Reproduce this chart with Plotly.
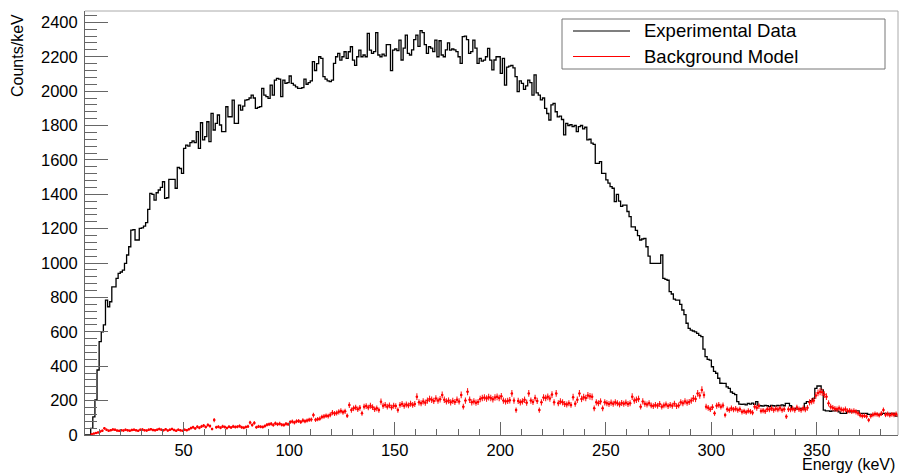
import math
import plotly.graph_objects as go

# ---------------- data ----------------
bin_start = 3          # first bin lower edge (keV), bin width 1 keV
black_counts = [
    0, 0, 0, 39, 105, 204, 378,
    543, 600, 640, 785, 746, 775, 862, 862, 911, 940,
    948, 959, 998, 1047, 1095, 1192, 1195, 1134, 1134, 1202,
    1205, 1215, 1235, 1312, 1405, 1400, 1366, 1409, 1425, 1440,
    1473, 1376, 1380, 1487, 1487, 1487, 1435, 1557, 1550, 1522,
    1667, 1686, 1680, 1700, 1710, 1700, 1764, 1667, 1816, 1716,
    1735, 1822, 1706, 1871, 1774, 1813, 1861, 1803, 1764, 1764,
    1909, 1851, 1851, 1948, 1813, 1813, 1919, 1890, 1913, 1948,
    1950, 1960, 1977, 1960, 1900, 1905, 1910, 2016, 1977, 1968,
    1958, 2035, 1977, 2064, 2074, 2070, 1968, 2064, 2045, 2050,
    2088, 2045, 2035, 2025, 2016, 2016, 2020, 2070, 2040, 2050,
    2060, 2171, 2120, 2160, 2200, 2190, 2084, 2070, 2060, 2055,
    2064, 2161, 2200, 2219, 2180, 2200, 2229, 2190, 2229, 2258,
    2180, 2150, 2200, 2239, 2200, 2210, 2200, 2336, 2239, 2219,
    2230, 2340, 2210, 2200, 2215, 2205, 2271, 2271, 2119, 2239,
    2245, 2235, 2297, 2181, 2250, 2326, 2219, 2210, 2240, 2300,
    2326, 2260, 2352, 2340, 2270, 2219, 2258, 2250, 2230, 2297,
    2200, 2293, 2210, 2200, 2240, 2281, 2239, 2245, 2240, 2230,
    2200, 2161, 2317, 2320, 2300, 2219, 2230, 2297, 2250, 2161,
    2190, 2175, 2180, 2200, 2249, 2180, 2123, 2181, 2200, 2200,
    2103, 2190, 2035, 2140, 2145, 2150, 2135, 2084, 1997, 2060,
    2045, 2010, 2030, 2064, 2050, 1977, 2094, 1990, 1977, 1949,
    1960, 1900, 1870, 1832, 1920, 1929, 1880, 1850, 1855, 1835,
    1745, 1813, 1800, 1805, 1794, 1800, 1764, 1794, 1800, 1780,
    1790, 1716, 1720, 1697, 1690, 1580, 1580, 1590, 1522, 1522,
    1484, 1465, 1445, 1435, 1357, 1400, 1360, 1330, 1337, 1337,
    1300, 1270, 1211, 1211, 1190, 1160, 1134, 1140, 1144, 1095,
    1040, 998, 998, 998, 998, 998, 1047, 911, 905, 900,
    834, 820, 790, 785, 785, 760, 727, 700, 650, 620,
    610, 605, 600, 591, 580, 572, 500, 456, 440, 436,
    397, 370, 359, 330, 301, 300, 300, 280, 271, 250,
    242, 235, 194, 180, 178, 180, 175, 184, 180, 185,
    178, 194, 172, 170, 168, 172, 170, 165, 172, 170,
    168, 172, 170, 175, 170, 184, 184, 170, 152, 155,
    150, 152, 155, 150, 184, 194, 194, 200, 213, 271,
    285, 285, 262, 145, 140, 140, 138, 140, 140, 145,
    135, 126, 126, 126, 135, 136, 135, 135, 140, 140,
    126, 126, 126, 126, 120, 120, 118, 120, 120, 120,
    120, 126, 126, 126, 126, 126, 126, 110, 110,
]

red_start = 6          # first background bin lower edge (keV)
red_counts = [
    5, 8, 12, 15,
    20, 25, 39, 30, 25, 28, 32, 30, 26, 24,
    28, 26, 30, 27, 25, 29, 31, 27, 24, 30,
    32, 28, 26, 30, 33, 29, 27, 31, 35, 30,
    28, 33, 26, 30, 35, 29, 25, 31, 27, 24,
    30, 28, 33, 40, 45, 38, 48, 42, 50, 55,
    46, 58, 52, 35, 87, 45, 48, 42, 50, 46,
    40, 48, 44, 50, 46, 48, 52, 45, 42, 47,
    50, 72, 58, 70, 45, 50, 48, 46, 52, 60,
    62, 65, 58, 68, 62, 66, 60, 58, 65, 62,
    75, 78, 72, 80, 82, 76, 85, 80, 84, 88,
    90, 116, 88, 92, 95, 105, 108, 112, 110, 118,
    130, 125, 128, 135, 140, 132, 138, 112, 174, 145,
    155, 160, 150, 158, 126, 165, 168, 160, 170, 162,
    150, 155, 145, 194, 170, 175, 165, 172, 160, 170,
    168, 145, 175, 180, 170, 178, 172, 182, 175, 180,
    223, 190, 185, 195, 188, 200, 210, 205, 198, 212,
    200, 208, 233, 205, 195, 200, 190, 198, 192, 205,
    195, 233, 165, 200, 252, 205, 190, 195, 188, 192,
    210, 215, 218, 212, 220, 215, 208, 218, 222, 215,
    225, 200, 195, 198, 202, 242, 200, 145, 198, 190,
    195, 205, 188, 242, 200, 192, 215, 198, 145, 190,
    218, 215, 222, 212, 235, 190, 242, 185, 195, 190,
    180, 178, 185, 175, 220, 182, 205, 242, 210, 220,
    215, 230, 225, 222, 155, 190, 185, 195, 155, 190,
    185, 180, 188, 182, 190, 185, 178, 186, 182, 188,
    180, 185, 223, 200, 205, 210, 165, 195, 182, 178,
    185, 172, 168, 175, 170, 180, 165, 172, 178, 168,
    175, 170, 182, 168, 172, 190, 185, 195, 188, 192,
    200, 213, 210, 242, 230, 262, 233, 165, 158, 150,
    162, 126, 170, 175, 165, 172, 116, 150, 145, 155,
    148, 152, 145, 150, 135, 138, 132, 140, 136, 130,
    165, 158, 168, 140, 142, 138, 150, 148, 155, 145,
    152, 148, 155, 145, 150, 107, 150, 148, 152, 145,
    160, 150, 145, 155, 148, 158, 190, 195, 200, 230,
    245, 252, 248, 235, 223, 184, 165, 158, 152, 150,
    155, 148, 145, 150, 140, 142, 138, 140, 135, 126,
    115, 110, 112, 108, 87, 110, 118, 122, 120, 115,
    125, 145, 118, 122, 115, 120, 118, 122, 115,
]

legend_labels = ["Experimental Data", "Background Model"]
x_title = "Energy (keV)"
y_title = "Counts/keV"

# ---------------- derived drawing arrays ----------------
x_edges = [bin_start + i for i in range(len(black_counts) + 1)]
y_step = black_counts + [black_counts[-1]]
red_x = [red_start + i + 0.5 for i in range(len(red_counts))]
red_err = [1.3 * math.sqrt(v) for v in red_counts]

FONT = "Liberation Sans, Arial, Helvetica, sans-serif"
AX = "#666666"

fig = go.Figure()
fig.add_trace(go.Scatter(
    x=x_edges, y=y_step, mode="lines", line=dict(color="black", width=1.3, shape="hv"),
    name=legend_labels[0], showlegend=False, hoverinfo="skip"))
fig.add_trace(go.Scatter(
    x=red_x, y=red_counts, mode="markers",
    marker=dict(color="#ff0000", size=2.5),
    error_y=dict(type="data", array=red_err, color="#ff2020", thickness=1.1, width=0),
    error_x=dict(type="constant", value=0.5, color="#ff2020", thickness=1.1, width=0),
    name=legend_labels[1], showlegend=False, hoverinfo="skip"))

W, H = 899, 473
L, R, T, B = 85, 1, 11, 38
pw, ph = W - L - R, H - T - B

def px(x):
    return (x - L) / pw

def py(y):
    return (H - B - y) / ph

shapes = [
    dict(type="line", xref="paper", yref="paper", x0=0, x1=1, y0=1, y1=1,
         line=dict(color="#aaaaaa", width=1)),
    dict(type="line", xref="paper", yref="paper", x0=1, x1=1, y0=0, y1=1,
         line=dict(color="#aaaaaa", width=1)),
    dict(type="rect", xref="paper", yref="paper", x0=px(562), x1=px(885),
         y0=py(69), y1=py(19), line=dict(color="#777777", width=1), fillcolor="white"),
    dict(type="line", xref="paper", yref="paper", x0=px(573), x1=px(630),
         y0=py(31), y1=py(31), line=dict(color="black", width=1.2)),
    dict(type="line", xref="paper", yref="paper", x0=px(573), x1=px(630),
         y0=py(56.5), y1=py(56.5), line=dict(color="#ff0000", width=1.2)),
]

annotations = [
    dict(text=legend_labels[0], xref="paper", yref="paper", x=px(642), y=py(31),
         xanchor="left", yanchor="middle", showarrow=False,
         font=dict(family=FONT, size=18.5, color="black")),
    dict(text=legend_labels[1], xref="paper", yref="paper", x=px(642), y=py(56.5),
         xanchor="left", yanchor="middle", showarrow=False,
         font=dict(family=FONT, size=18.5, color="black")),
    dict(text=y_title, xref="paper", yref="paper", x=px(17.5), y=py(12),
         xanchor="center", yanchor="top", textangle=-90, showarrow=False,
         font=dict(family=FONT, size=16, color="black")),
    dict(text=x_title, xref="paper", yref="paper", x=px(897), y=py(464),
         xanchor="right", yanchor="middle", showarrow=False,
         font=dict(family=FONT, size=16, color="black")),
]

fig.update_layout(
    width=W, height=H, margin=dict(l=L, r=R, t=T, b=B),
    paper_bgcolor="white", plot_bgcolor="white",
    font=dict(family=FONT, size=16.5, color="black"),
    showlegend=False, shapes=shapes, annotations=annotations,
    xaxis=dict(range=[3.3, 388.4], tick0=0, dtick=50, ticks="inside", ticklen=13,
               tickcolor=AX, tickwidth=1, showline=True, linecolor=AX, linewidth=1,
               showgrid=False, zeroline=False, tickfont=dict(size=16.5),
               minor=dict(dtick=10, tick0=0, ticks="inside", ticklen=6, tickcolor=AX,
                          showgrid=False)),
    yaxis=dict(range=[0, 2466], tick0=0, dtick=200, ticks="inside", ticklen=23,
               tickcolor=AX, tickwidth=1, showline=True, linecolor=AX, linewidth=1,
               showgrid=False, zeroline=False, tickfont=dict(size=16.5),
               ticklabelstandoff=3,
               minor=dict(dtick=40, tick0=0, ticks="inside", ticklen=12, tickcolor=AX,
                          showgrid=False)),
)

fig.write_html(
    "out.html",
    config={"displayModeBar": False, "staticPlot": True},
    post_script="document.body.style.margin='0';document.body.style.overflow='hidden';",
)
